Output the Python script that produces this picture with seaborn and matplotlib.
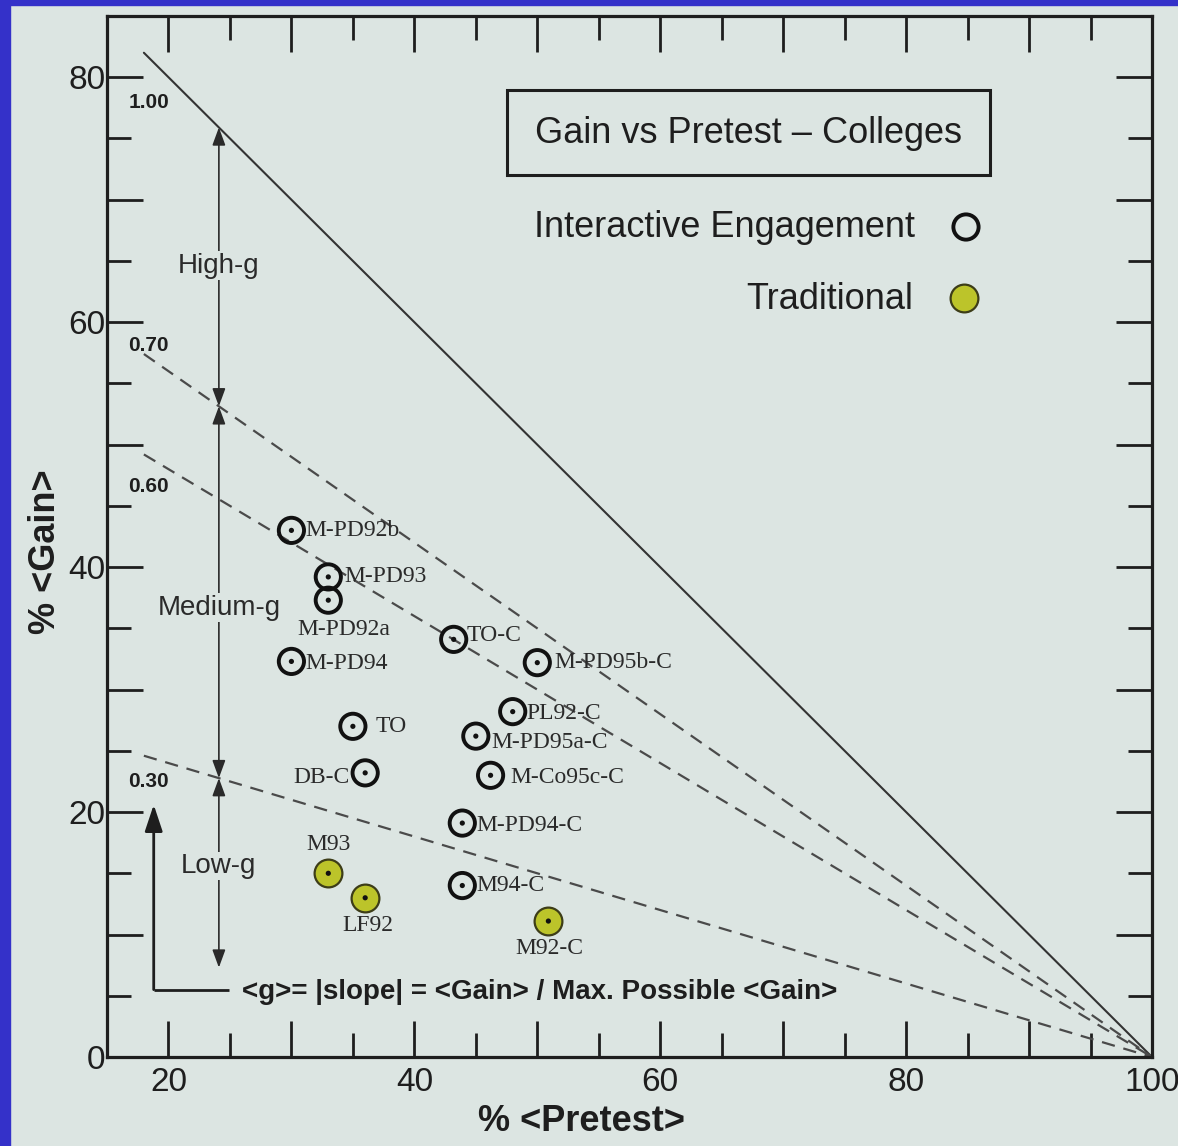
import matplotlib
matplotlib.use("Agg")
import matplotlib.pyplot as plt
import matplotlib.patches as mpatches
from matplotlib.ticker import MultipleLocator, FuncFormatter
import seaborn as sns
import pandas as pd
import numpy as np

# ---------------- data ----------------
ie_labels = ["M-PD92b", "M-PD93", "M-PD92a", "M-PD94", "TO", "DB-C", "TO-C",
             "M-PD95b-C", "PL92-C", "M-PD95a-C", "M-Co95c-C", "M-PD94-C", "M94-C"]
ie_pretest = [30.0, 33.0, 33.0, 30.0, 35.0, 36.0, 43.2, 50.0, 48.0, 45.0, 46.2, 43.9, 43.9]
ie_gain = [43.0, 39.2, 37.3, 32.3, 27.0, 23.2, 34.1, 32.2, 28.2, 26.2, 23.0, 19.1, 14.0]

trad_labels = ["M93", "LF92", "M92-C"]
trad_pretest = [33.0, 36.0, 50.9]
trad_gain = [15.0, 13.0, 11.1]

g_values = [1.00, 0.70, 0.60, 0.30]
g_texts = ["1.00", "0.70", "0.60", "0.30"]
band_texts = ["High-g", "Medium-g", "Low-g"]

title_text = "Gain vs Pretest \u2013 Colleges"
legend_texts = ["Interactive Engagement", "Traditional"]
formula_text = "<g>= |slope| = <Gain> / Max. Possible <Gain>"

# ---------------- layout / style ----------------
ie_label_off = [(10, 0, "left"), (11.5, 0, "left"), (11, -21, "center"), (10, -1.5, "left"),
                (16, 0, "left"), (-11, -3.5, "right"), (9.5, 3, "left"), (12, 0, "left"),
                (10, -1, "left"), (11, -4.5, "left"), (14.5, -1.5, "left"), (10, -1.5, "left"),
                (10, 0, "left")]
trad_label_off = [(0, 21, "center"), (2, -20, "center"), (1, -19.5, "center")]
g_label_pos = [(18.4, 77.9), (18.4, 58.1), (18.4, 46.6), (18.4, 22.5)]
band_label_y = [64.6, 36.7, 15.6]
line_x0 = 18.0
arrow_x = 24.1
low_arrow_bottom = 7.3

BG = "#dce5e2"
BLUE = "#3431c9"
INK = "#1e1e1e"
YG = "#bcc42a"

sns.set_theme(style="ticks")
plt.rcParams["font.family"] = ["Liberation Sans", "DejaVu Sans"]

W, H = 1178, 1146
fig = plt.figure(figsize=(W / 100, H / 100), dpi=100, facecolor=BG)
ax = fig.add_axes([107 / W, 1 - 1057 / H, 1045 / W, 1041 / H])
ax.set_facecolor(BG)

# blue frame strips
fig.patches.append(mpatches.Rectangle((0, 0), 10 / W, 1, transform=fig.transFigure,
                                      color=BLUE, zorder=10))
fig.patches.append(mpatches.Rectangle((0, 1 - 5 / H), 1, 5 / H, transform=fig.transFigure,
                                      color=BLUE, zorder=10))

ax.set_xlim(15, 100)
ax.set_ylim(0, 85)

# g lines
xl = np.array([line_x0, 100.0])
for g in g_values:
    if g == 1.0:
        ax.plot(xl, g * (100 - xl), color="#333333", lw=1.5, zorder=1)
    else:
        ax.plot(xl, g * (100 - xl), color="#4a4a4a", lw=1.6, dashes=(6, 4), zorder=1)

for (gx, gy), t in zip(g_label_pos, g_texts):
    ax.text(gx, gy, t, fontsize=15, fontweight="bold", ha="center", va="center", color=INK)

# band arrows
arrow_kw = dict(arrowstyle="<|-|>,head_length=0.6,head_width=0.22", lw=1.2, color="#2a2a2a",
                mutation_scale=18, shrinkA=0, shrinkB=0)
ends = [g * (100 - arrow_x) for g in (1.0, 0.70, 0.30)] + [low_arrow_bottom]
for i in range(3):
    ax.annotate("", xy=(arrow_x, ends[i]), xytext=(arrow_x, ends[i + 1]),
                arrowprops=arrow_kw, zorder=2)
for t, yy in zip(band_texts, band_label_y):
    ax.text(arrow_x, yy, t, fontsize=20, ha="center", va="center", color="#2a2a2a", zorder=3,
            bbox=dict(facecolor=BG, edgecolor="none", pad=1))

# L-shaped arrow with formula
ax.plot([18.8, 24.9], [5.5, 5.5], color=INK, lw=2.0, solid_capstyle="butt", zorder=2)
ax.annotate("", xy=(18.8, 20.6), xytext=(18.8, 5.5),
            arrowprops=dict(arrowstyle="-|>,head_length=0.9,head_width=0.3", lw=2.0,
                            color=INK, mutation_scale=18, shrinkA=0, shrinkB=0), zorder=2)
ax.text(25.95, 5.3, formula_text, fontsize=20, fontweight="bold", ha="left", va="center",
        color=INK)

# scatter points
df_ie = pd.DataFrame({"pretest": ie_pretest, "gain": ie_gain, "label": ie_labels})
df_tr = pd.DataFrame({"pretest": trad_pretest, "gain": trad_gain, "label": trad_labels})

sns.scatterplot(data=df_ie, x="pretest", y="gain", s=330, facecolors="none",
                edgecolor="#111111", linewidth=2.8, ax=ax, legend=False, zorder=4)
sns.scatterplot(data=df_tr, x="pretest", y="gain", s=400, color=YG,
                edgecolor="#3d3d18", linewidth=1.6, ax=ax, legend=False, zorder=4)
df_all = pd.concat([df_ie, df_tr])
sns.scatterplot(data=df_all, x="pretest", y="gain", s=14, color="#111111",
                edgecolor="none", ax=ax, legend=False, zorder=5)

for (x, y, t), (dx, dy, ha) in zip(zip(ie_pretest, ie_gain, ie_labels), ie_label_off):
    ax.annotate(t, (x, y), xytext=(dx, dy), textcoords="offset points", ha=ha, va="center",
                fontsize=17, family=["Liberation Serif", "DejaVu Serif"], color="#2a2a2a",
                zorder=6)
for (x, y, t), (dx, dy, ha) in zip(zip(trad_pretest, trad_gain, trad_labels), trad_label_off):
    ax.annotate(t, (x, y), xytext=(dx, dy), textcoords="offset points", ha=ha, va="center",
                fontsize=17, family=["Liberation Serif", "DejaVu Serif"], color="#2a2a2a",
                zorder=6)

# title box
ax.add_patch(mpatches.Rectangle((0.3828, 0.8473), 0.4622, 0.0817, transform=ax.transAxes,
                                facecolor="none", edgecolor=INK, lw=2.2, zorder=5))
ax.text(0.6134, 0.8876, title_text, transform=ax.transAxes, fontsize=26, ha="center",
        va="center", color=INK)

# legend (manual)
ax.text(0.7732, 0.7964, legend_texts[0], transform=ax.transAxes, fontsize=26, ha="right",
        va="center", color=INK)
ax.text(0.7713, 0.7272, legend_texts[1], transform=ax.transAxes, fontsize=26, ha="right",
        va="center", color=INK)
ax.scatter([0.822], [0.7973], transform=ax.transAxes, s=330, facecolors="none",
           edgecolors="#111111", linewidths=2.8, zorder=5)
ax.scatter([0.8201], [0.7291], transform=ax.transAxes, s=400, color=YG,
           edgecolors="#3d3d18", linewidths=1.6, zorder=5)

# axes styling
for sp in ax.spines.values():
    sp.set_linewidth(2.3)
    sp.set_color(INK)
ax.xaxis.set_major_locator(MultipleLocator(10))
ax.xaxis.set_minor_locator(MultipleLocator(5))
ax.yaxis.set_major_locator(MultipleLocator(10))
ax.yaxis.set_minor_locator(MultipleLocator(5))
fmt = FuncFormatter(lambda v, p: f"{int(round(v))}" if round(v) % 20 == 0 else "")
ax.xaxis.set_major_formatter(fmt)
ax.yaxis.set_major_formatter(fmt)
ax.tick_params(which="both", direction="in", top=True, right=True, width=2.0, color=INK)
ax.tick_params(which="major", length=26)
ax.tick_params(which="minor", length=17)
ax.tick_params(axis="x", which="major", labelsize=24, pad=7, labelcolor=INK)
ax.tick_params(axis="y", which="major", labelsize=24, pad=1, labelcolor=INK)

ax.set_xlabel("% <Pretest>", fontsize=26, fontweight="bold", color=INK)
ax.set_ylabel("% <Gain>", fontsize=26, fontweight="bold", color=INK)
ax.xaxis.set_label_coords(0.4545, -0.0624)
ax.xaxis.label.set_va("center")
ax.yaxis.set_label_coords(-0.0593, 0.485)
ax.yaxis.label.set_va("center")

fig.savefig("out.png", dpi=100, facecolor=BG)
